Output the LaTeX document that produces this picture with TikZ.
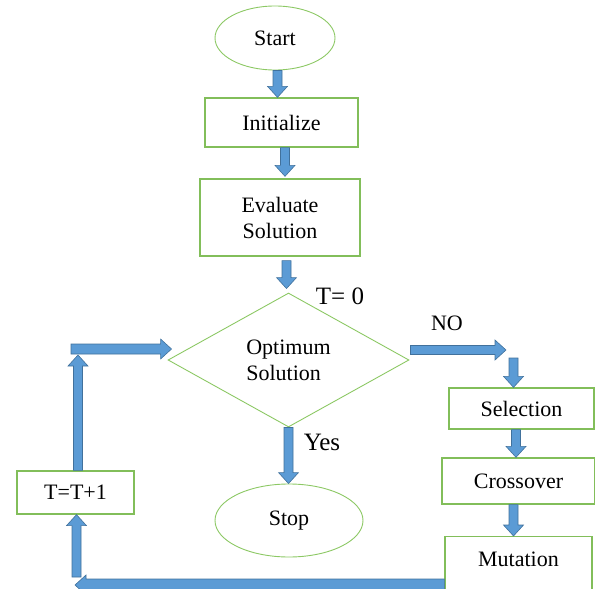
\documentclass[tikz,border=0pt]{standalone}
\usepackage{fontspec}
\setmainfont{Liberation Serif}
\usetikzlibrary{shapes.geometric,calc}
\definecolor{arrowblue}{RGB}{91,155,213}
\definecolor{arrowedge}{RGB}{65,113,156}
\definecolor{boxgreen}{RGB}{130,190,90}
\definecolor{lightgreen}{RGB}{140,200,100}
\newcommand{\barrow}[3][4.5]{%
  \filldraw[arrowfill] let \p1=#2, \p2=#3,
    \n1={atan2(\y2-\y1,\x2-\x1)}, \n2={veclen(\x2-\x1,\y2-\y1)} in
    [shift={(\x1,\y1)}, rotate=\n1]
    (0pt,-#1pt) -- ({\n2-11pt},-#1pt) -- ({\n2-11pt},-10pt) -- ({\n2+0pt},0pt)
    -- ({\n2-11pt},10pt) -- ({\n2-11pt},#1pt) -- (0pt,#1pt) -- cycle;}
\begin{document}
\begin{tikzpicture}[x=1pt,y=-1pt, font=\fontsize{22}{26}\selectfont,
  box/.style={draw=boxgreen, line width=1.3pt, rectangle, inner sep=0pt},
  oval/.style={draw=lightgreen, line width=0.9pt, ellipse, inner sep=0pt},
  decision/.style={draw=lightgreen, line width=0.9pt, diamond, inner sep=0pt, align=left},
  arrowfill/.style={fill=arrowblue, draw=arrowedge, line width=0.6pt, line join=miter},
  lbl/.style={inner sep=0pt, font=\fontsize{25}{28}\selectfont}]
\useasboundingbox (0,0) rectangle (595,589);
\clip (0,0) rectangle (595,589);
\node[oval, minimum width=120pt, minimum height=64pt] (start) at (275,38) {Start};
\node[box, minimum width=153pt, minimum height=49pt] (init) at (281.5,122.5) {Initialize};
\node[box, align=center, minimum width=160pt, minimum height=77pt] (eval) at (280,217.5) {Evaluate\\Solution};
\node[decision, minimum width=241pt, minimum height=134pt] (opt) at (288.5,360) {Optimum\\Solution};
\node[oval, minimum width=148pt, minimum height=73pt] (stop) at (289,520.5) {Stop};
\node[box, minimum width=145pt, minimum height=41pt] (sel) at (521.5,408.5) {Selection};
\node[box, minimum width=153pt, minimum height=46pt] (cross) at (518.5,481) {Crossover};
\node[box, minimum width=147pt, text height=30pt, text depth=34pt, anchor=north] (mut) at (518.5,536) {Mutation};
\node[box, minimum width=117pt, minimum height=43pt] (tt) at (75.5,492.5) {T=T+1};
\node[lbl] (tzero) at (340,296) {T= 0};
\node[lbl] (yes) at (322,442) {Yes};
\node[inner sep=0pt] (no) at (447,323) {NO};
% connectors
\coordinate (a1s) at ([xshift=2.5pt]start.south);
\barrow{(a1s)}{(a1s |- init.north)}
\coordinate (a2s) at ([xshift=3.5pt]init.south);
\coordinate (a2e) at ([yshift=2pt]eval.north);
\barrow{(a2s)}{(a2s |- a2e)}
\coordinate (a3s) at ([xshift=6.5pt,yshift=-4pt]eval.south);
\coordinate (a3e) at ([yshift=4pt]opt.north);
\barrow{(a3s)}{(a3s |- a3e)}
\barrow{(opt.south)}{(opt.south |- stop.north)}
\coordinate (noA) at ([xshift=1pt,yshift=10pt]opt.east);
\coordinate (noB) at (506,350);
\barrow{(noA)}{(noB)}
\coordinate (noC) at (513.5,358);
\barrow{(noC)}{(noC |- sel.north)}
\coordinate (a6s) at ([xshift=-5.5pt]sel.south);
\barrow{(a6s)}{(a6s |- cross.north)}
\coordinate (a7s) at ([xshift=-5pt]cross.south);
\barrow{(a7s)}{(a7s |- mut.north)}
\coordinate (bl) at (75,585);
\barrow[6]{(bl -| mut.west)}{(bl)}
\coordinate (lu1) at (76.5,577);
\barrow{(lu1)}{(lu1 |- tt.south)}
\coordinate (a10s) at ([xshift=2.5pt]tt.north);
\coordinate (lu2) at (78,355);
\barrow{(a10s)}{(a10s |- lu2)}
\coordinate (lu3) at (71,349);
\coordinate (lu4) at ([xshift=4pt]opt.west);
\barrow[5]{(lu3)}{(lu3 -| lu4)}
\end{tikzpicture}
\end{document}
